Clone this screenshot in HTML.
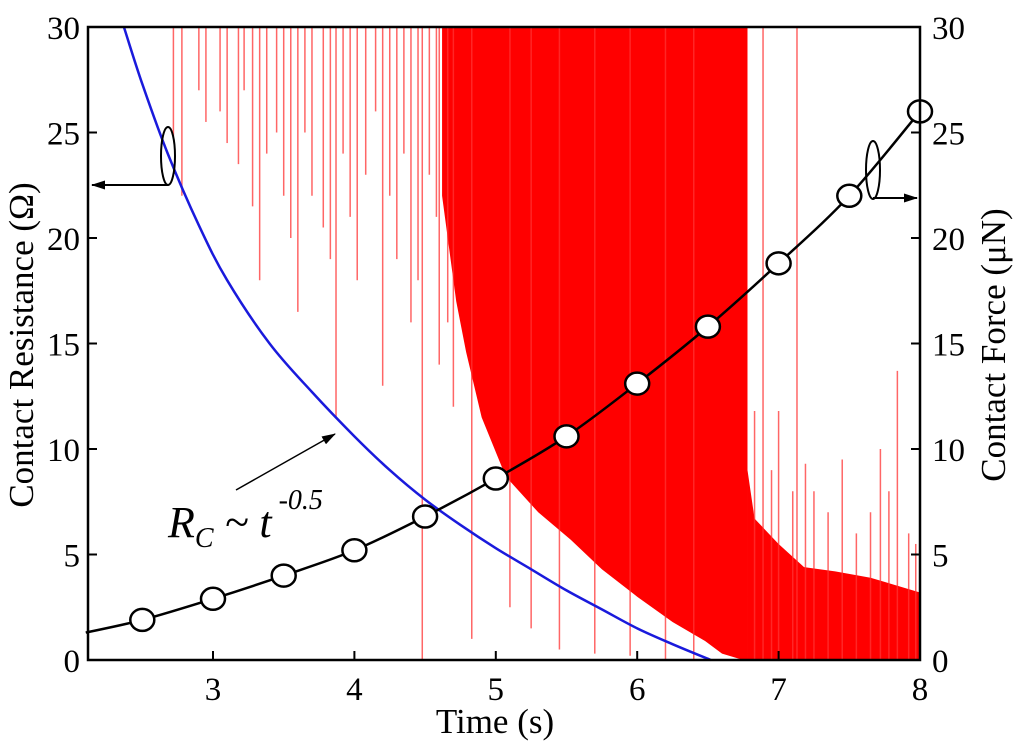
<!DOCTYPE html>
<html><head><meta charset="utf-8"><style>
body{margin:0;background:#fff;}
svg text{font-family:"Liberation Serif",serif;}
</style></head><body>
<svg id="chart" width="1024" height="750" xmlns="http://www.w3.org/2000/svg" style="position:absolute;left:0;top:0">
<defs><marker id="ah" markerWidth="14" markerHeight="9" refX="13" refY="4.5" orient="auto" markerUnits="userSpaceOnUse"><path d="M0,0L14,4.5L0,9z" fill="#000"/></marker></defs>
<g id="red"></g><g id="blue"></g><g id="blk"></g><g id="axes"></g>
</svg>
<script>
const xTicks=[3,4,5,6,7,8];
const yTicks=[0,5,10,15,20,25,30];
const topSpikeX=[2.72,2.78,2.9,2.95,3.05,3.1,3.18,3.22,3.28,3.33,3.38,3.45,3.5,3.55,3.6,3.65,3.7,3.78,3.83,3.87,3.92,3.97,4.02,4.08,4.15,4.2,4.25,4.3,4.35,4.4,4.45,4.48,4.53,4.58,4.6,4.66,4.7,4.83,5.1,5.25,5.45,5.7,5.95,6.2,6.4,6.89,7.13];
const topSpikeLow=[24.8,22,27,25.5,26,24.5,23.5,27,21.5,18,24,25,22,20,16.5,25,22,20.5,19,11.5,24,21,18,23,26,13,22,19,24,16,18,0,23,21,14,16,12,1,2.5,1.5,0.5,0.3,0.2,0,0,0,0];
const bandX=[4.62,4.72,4.79,4.9,5.07,5.3,5.53,5.75,6.0,6.25,6.48,6.6,6.75,6.78];
const bandLow=[22,17,14.6,11.5,8.7,7,5.7,4.3,3,1.8,0.9,0.3,0,0];
const lowBandX=[6.78,6.83,7.0,7.18,7.4,7.65,8.0];
const lowBandHigh=[9,6.7,5.5,4.4,4.2,3.9,3.2];
const upSpikeX=[6.83,6.95,7.0,7.1,7.19,7.25,7.35,7.45,7.55,7.65,7.72,7.78,7.84,7.92,7.97];
const upSpikeHigh=[11.8,9,11.8,8,9.3,8,7,9.5,6,7,10,8,13.7,6,5.5];
const fitX=[2.37,2.5,2.68,2.9,3.1,3.4,3.7,4.0,4.25,4.5,4.75,5.0,5.25,5.5,5.75,6.0,6.25,6.52];
const fitY=[30,27.3,24,20.6,18,15.0,12.7,10.6,9.0,7.6,6.4,5.3,4.3,3.3,2.4,1.5,0.75,0];
const forceX=[2.1,2.5,3,3.5,4,4.5,5,5.5,6,6.5,7,7.5,8];
const forceY=[1.3,1.9,2.9,4.0,5.2,6.8,8.6,10.6,13.1,15.8,18.8,22.0,26.0];
const X0=88,X1=920,Y0=660,Y1=27,xmin=2.116,xmax=8;
const sx=v=>X0+(v-xmin)/(xmax-xmin)*(X1-X0);
const sy=v=>Y0-v/30*(Y0-Y1);
const NS="http://www.w3.org/2000/svg";
function mk(tag,attrs,parent){const e=document.createElementNS(NS,tag);for(const k in attrs)e.setAttribute(k,attrs[k]);document.getElementById(parent).appendChild(e);return e;}
function smooth(xs,ys){const p=xs.map((x,i)=>[sx(x),sy(ys[i])]);let d="M"+p[0][0]+","+p[0][1];
for(let i=0;i<p.length-1;i++){const a=p[Math.max(0,i-1)],b=p[i],c=p[i+1],e=p[Math.min(p.length-1,i+2)];
d+=" C"+(b[0]+(c[0]-a[0])/6)+","+(b[1]+(c[1]-a[1])/6)+" "+(c[0]-(e[0]-b[0])/6)+","+(c[1]-(e[1]-b[1])/6)+" "+c[0]+","+c[1];}return d;}
let pts=bandX.map(x=>sx(x)+","+sy(30)).concat(bandX.slice().reverse().map((x,i)=>sx(x)+","+sy(bandLow[bandX.length-1-i])));
let b=mk('polygon',{points:pts.join(' '),fill:'#ff0000'},'red');


pts=lowBandX.map((x,i)=>sx(x)+","+sy(lowBandHigh[i])).concat([sx(8)+","+sy(0),sx(6.78)+","+sy(0)]);
b=mk('polygon',{points:pts.join(' '),fill:'#ff0000'},'red');


topSpikeX.forEach((x,i)=>{const l=mk('line',{x1:sx(x),x2:sx(x),y1:sy(30),y2:sy(topSpikeLow[i]),stroke:'#f33','stroke-width':1.5,'stroke-opacity':0.75},'red');

});
upSpikeX.forEach((x,i)=>{const l=mk('line',{x1:sx(x),x2:sx(x),y1:sy(0),y2:sy(upSpikeHigh[i]),stroke:'#f33','stroke-width':1.5,'stroke-opacity':0.75},'red');

});
const fp=mk('path',{d:smooth(fitX,fitY),fill:'none',stroke:'#1a1adc','stroke-width':2.5},'blue');


const lp=mk('path',{d:smooth(forceX,forceY),fill:'none',stroke:'#000','stroke-width':2.5},'blk');


forceX.forEach((x,i)=>{if(i===0)return;const c=mk('ellipse',{cx:sx(x),cy:sy(forceY[i]),rx:12,ry:11,fill:'#fff',stroke:'#000','stroke-width':2.5},'blk');

});
const fr=mk('rect',{x:X0,y:Y1,width:X1-X0,height:Y0-Y1,fill:'none',stroke:'#000','stroke-width':2.5},'axes');


xTicks.forEach(v=>{mk('line',{x1:sx(v),x2:sx(v),y1:Y0,y2:Y0-9,stroke:'#000','stroke-width':2},'axes');
const t=mk('text',{x:sx(v),y:Y0+40,'text-anchor':'middle','font-size':33},'axes');t.textContent=v;

});
yTicks.forEach(v=>{mk('line',{x1:X0,x2:X0+9,y1:sy(v),y2:sy(v),stroke:'#000','stroke-width':2},'axes');
mk('line',{x1:X1,x2:X1-9,y1:sy(v),y2:sy(v),stroke:'#000','stroke-width':2},'axes');
const t=mk('text',{x:X0-8,y:sy(v)+12,'text-anchor':'end','font-size':33},'axes');t.textContent=v;


const t2=mk('text',{x:X1+12,y:sy(v)+12,'text-anchor':'start','font-size':33},'axes');t2.textContent=v;

});
</script>
<svg style="position:absolute;left:0;top:0" width="1024" height="750">
<text x="495" y="733" text-anchor="middle" font-size="35">Time (s)</text>
<text transform="translate(33,345) rotate(-90)" text-anchor="middle" font-size="35">Contact Resistance (Ω)</text>
<text transform="translate(1005,345) rotate(-90)" text-anchor="middle" font-size="35">Contact Force (μN)</text>
<ellipse cx="168" cy="156" rx="7" ry="29" fill="none" stroke="#000" stroke-width="2"/>
<polyline points="168,185 92,185" fill="none" stroke="#000" stroke-width="2" marker-end="url(#ah)"/>
<ellipse cx="873" cy="170" rx="7" ry="29" fill="none" stroke="#000" stroke-width="2"/>
<polyline points="873,198 917,198" fill="none" stroke="#000" stroke-width="2" marker-end="url(#ah)"/>
<line x1="236" y1="490" x2="335" y2="434" stroke="#000" stroke-width="1.5" marker-end="url(#ah)"/>
<text x="168" y="537" font-size="44" font-style="italic">R<tspan font-size="28" dy="10">C</tspan><tspan dy="-10"> ~ t</tspan><tspan font-size="28" dy="-28"> -0.5</tspan></text>
</svg>
</body></html>
